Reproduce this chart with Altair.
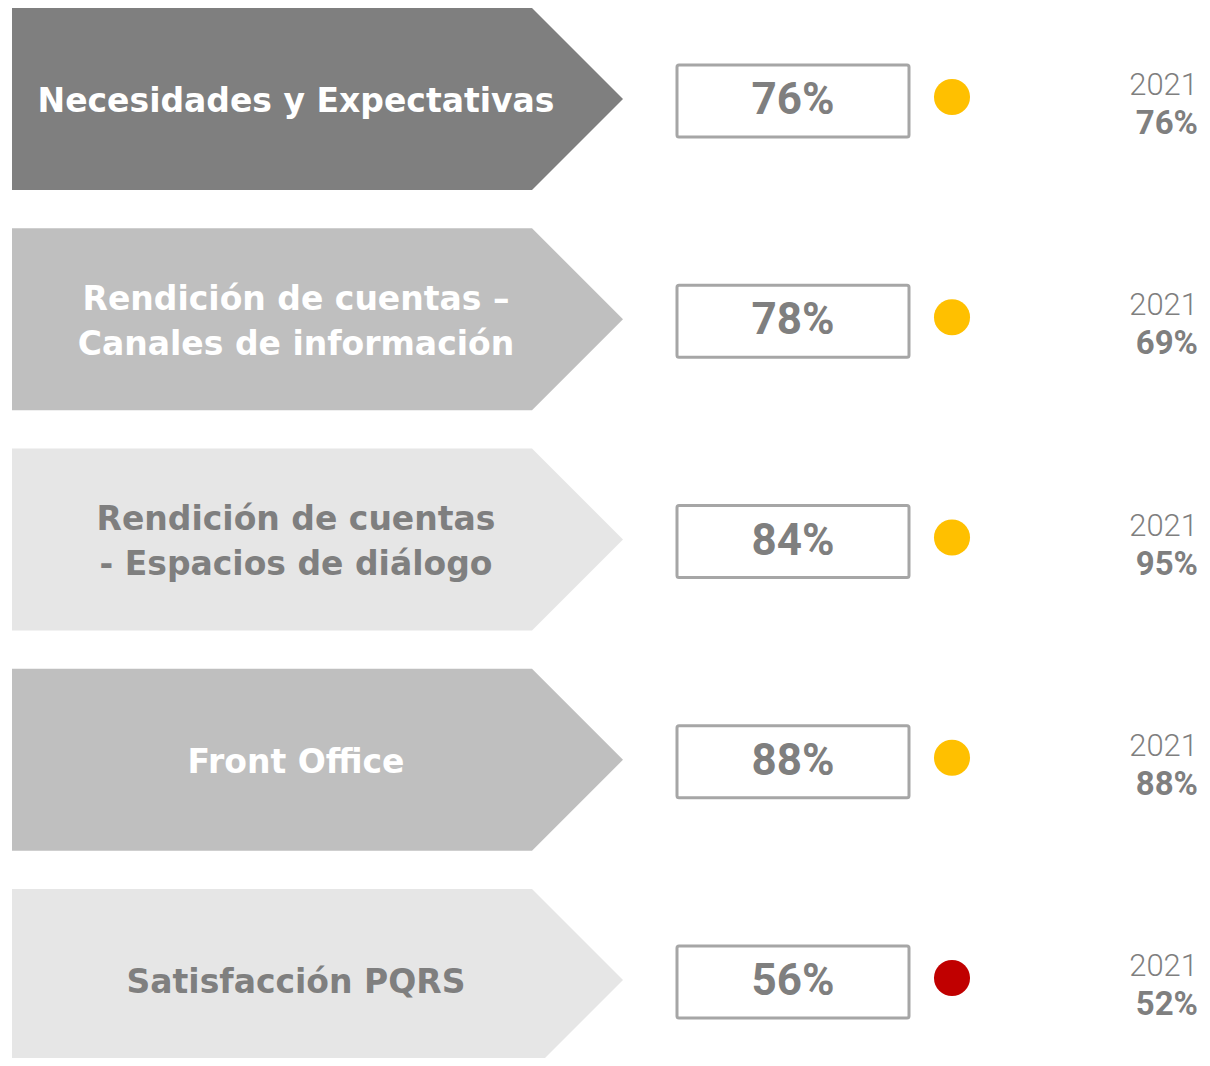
import altair as alt
import pandas as pd

# ---------------- data ----------------
labels = [
    "Necesidades y Expectativas",
    "Rendición de cuentas –\nCanales de información",
    "Rendición de cuentas\n- Espacios de diálogo",
    "Front Office",
    "Satisfacción PQRS",
]
values_2022 = [76, 78, 84, 88, 56]
values_2021 = [76, 69, 95, 88, 52]
prev_year = ["2021", "2021", "2021", "2021", "2021"]
status = ["amarillo", "amarillo", "amarillo", "amarillo", "rojo"]

# ---------------- styles ----------------
arrow_fill = ["#7F7F7F", "#BFBFBF", "#E6E6E6", "#BFBFBF", "#E6E6E6"]
label_color = ["#FFFFFF", "#FFFFFF", "#7F7F7F", "#FFFFFF", "#7F7F7F"]
status_colors = {"amarillo": "#FFC000", "rojo": "#C00000"}
GREY = "#7F7F7F"
LABEL_FONT = "DejaVu Sans"
NUM_FONT = "Roboto"
LINE_H = 45

# ---------------- layout (page px on x, row units on y) ----------------
PITCH = 220.25          # px between row centres
FIRST = 91.0            # first row centre in plot px
H = 1050
W = 1194
ARROW_HALF = 91 / PITCH
BOX_HALF = 36 / PITCH
X_LEFT, X_NECK, X_TIP = 12, 532, 623
BOX_L, BOX_R = 677, 909
BOX_C = (BOX_L + BOX_R) / 2
CIRCLE_X = 952
YEAR_X = 1198
LABEL_X = 296

n = len(labels)
rows = pd.DataFrame({
    "row": list(range(n)),
    "label": labels,
    "v22": [f"{v}%" for v in values_2022],
    "v21": [f"{v}%" for v in values_2021],
    "year": prev_year,
    "status": status,
    "fill": arrow_fill,
    "lcolor": label_color,
})
rows["scol"] = rows["status"].map(status_colors)
rows["nlines"] = rows["label"].str.count("\n") + 1
rows["label_y"] = rows["row"] + (3 - (rows["nlines"] - 1) * LINE_H / 2) / PITCH
rows["box_top"] = rows["row"] - BOX_HALF + 2 / PITCH
rows["box_bot"] = rows["row"] + BOX_HALF + 2 / PITCH
rows["box_mid"] = rows["row"] + 2 / PITCH
rows["circle_y"] = rows["row"] - 2 / PITCH
rows["year_y"] = rows["row"] - 13 / PITCH
rows["v21_y"] = rows["row"] + 25 / PITCH

arrow_pts = []
for i in range(n):
    for xx, top, bot in [
        (X_LEFT, i - ARROW_HALF, i + ARROW_HALF),
        (X_NECK, i - ARROW_HALF, i + ARROW_HALF),
        (X_TIP, i, i),
    ]:
        arrow_pts.append({"row": i, "x": xx, "top": top, "bot": bot, "fill": arrow_fill[i]})
arrows = pd.DataFrame(arrow_pts)

xs = alt.Scale(domain=[8, 8 + W], range=[0, W], nice=False, zero=False)
ys = alt.Scale(domain=[(0 - FIRST) / PITCH, (H - FIRST) / PITCH], reverse=True, nice=False, zero=False)
noaxis = None

arrow_layer = alt.Chart(arrows).mark_area(orient="vertical", clip=False).encode(
    x=alt.X("x:Q", scale=xs, axis=noaxis),
    y=alt.Y("top:Q", scale=ys, axis=noaxis),
    y2="bot:Q",
    detail="row:N",
    color=alt.Color("fill:N", scale=None),
)

base = alt.Chart(rows)

label_layer = base.mark_text(
    font=LABEL_FONT, fontWeight="bold", fontSize=33, align="center", baseline="middle",
    lineBreak="\n", lineHeight=LINE_H,
).encode(
    x=alt.X("lx:Q", scale=xs, axis=noaxis),
    y=alt.Y("label_y:Q", scale=ys, axis=noaxis),
    text="label:N",
    color=alt.Color("lcolor:N", scale=None),
).transform_calculate(lx=str(LABEL_X))

box_layer = base.mark_rect(
    fill="white", stroke="#A6A6A6", strokeWidth=3, cornerRadius=2
).encode(
    x=alt.X("bl:Q", scale=xs, axis=noaxis),
    x2="br:Q",
    y=alt.Y("box_top:Q", scale=ys, axis=noaxis),
    y2="box_bot:Q",
).transform_calculate(bl=str(BOX_L), br=str(BOX_R))

value_layer = base.mark_text(
    font=NUM_FONT, fontWeight="bold", fontSize=44, align="center", baseline="middle", color=GREY
).encode(
    x=alt.X("bc:Q", scale=xs, axis=noaxis),
    y=alt.Y("box_mid:Q", scale=ys, axis=noaxis),
    text="v22:N",
).transform_calculate(bc=str(BOX_C))

circle_layer = base.mark_circle(size=1300, opacity=1).encode(
    x=alt.X("cx:Q", scale=xs, axis=noaxis),
    y=alt.Y("circle_y:Q", scale=ys, axis=noaxis),
    color=alt.Color("scol:N", scale=None),
).transform_calculate(cx=str(CIRCLE_X))

year_layer = base.mark_text(
    font=NUM_FONT, fontWeight=300, fontSize=31, align="right", baseline="middle", color=GREY
).encode(
    x=alt.X("yx:Q", scale=xs, axis=noaxis),
    y=alt.Y("year_y:Q", scale=ys, axis=noaxis),
    text="year:N",
).transform_calculate(yx=str(YEAR_X))

prev_layer = base.mark_text(
    font=NUM_FONT, fontWeight="bold", fontSize=33, align="right", baseline="middle", color=GREY
).encode(
    x=alt.X("yx:Q", scale=xs, axis=noaxis),
    y=alt.Y("v21_y:Q", scale=ys, axis=noaxis),
    text="v21:N",
).transform_calculate(yx=str(YEAR_X))

chart = alt.layer(
    arrow_layer, label_layer, box_layer, value_layer, circle_layer, year_layer, prev_layer
).properties(
    width=W, height=H, padding=0,
    autosize=alt.AutoSizeParams(type="none"),
).configure(background="white").configure_view(stroke=None, strokeWidth=0)

chart.save("out.html", embed_options={"renderer": "svg", "actions": False})
